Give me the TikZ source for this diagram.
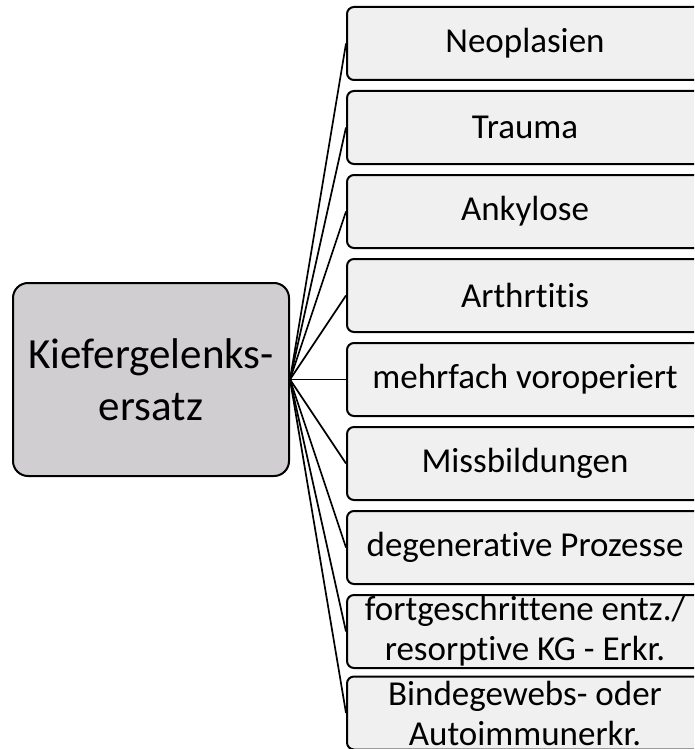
\documentclass[tikz,border=0pt]{standalone}
\usepackage{fontspec}
\setmainfont{Carlito}[Ligatures=NoCommon]
\begin{document}
\begin{tikzpicture}[x=1pt,y=-1pt,
  mainbox/.style={draw=black, line width=2pt, fill={rgb,255:red,208;green,206;blue,208}, rounded corners=15pt,
    minimum width=276pt, minimum height=193pt, align=center, font=\fontsize{43}{52}\selectfont, inner sep=0pt},
  catbox/.style={draw=black, line width=2pt, fill={rgb,255:red,240;green,240;blue,240}, rounded corners=7pt,
    minimum width=356pt, minimum height=73pt, align=center, font=\fontsize{35}{40}\selectfont, inner sep=0pt},
  link/.style={draw=black, line width=1.7pt}]
\useasboundingbox (0,0) rectangle (694,749);
\clip (0,0) rectangle (694,749);
\node[mainbox] (c) at (151,379.5) {Kiefergelenks-\\ersatz};
\node[catbox] (b1) at (525,43.5) {Neoplasien};
\node[catbox] (b2) at (525,127.5) {Trauma};
\node[catbox] (b3) at (525,211.5) {Ankylose};
\node[catbox] (b4) at (525,295.5) {Arthrtitis};
\node[catbox] (b5) at (525,379.5) {mehrfach voroperiert};
\node[catbox] (b6) at (525,463.5) {Missbildungen};
\node[catbox] (b7) at (525,547.5) {degenerative Prozesse};
\node[catbox] (b8) at (525,631.5) {fortgeschrittene entz./\\resorptive KG - Erkr.};
\node[catbox] (b9) at (525,713) {Bindegewebs- oder\\Autoimmunerkr.};
\foreach \i in {1,...,9} {\draw[link] (c.east) -- (b\i.west);}
\end{tikzpicture}
\end{document}
